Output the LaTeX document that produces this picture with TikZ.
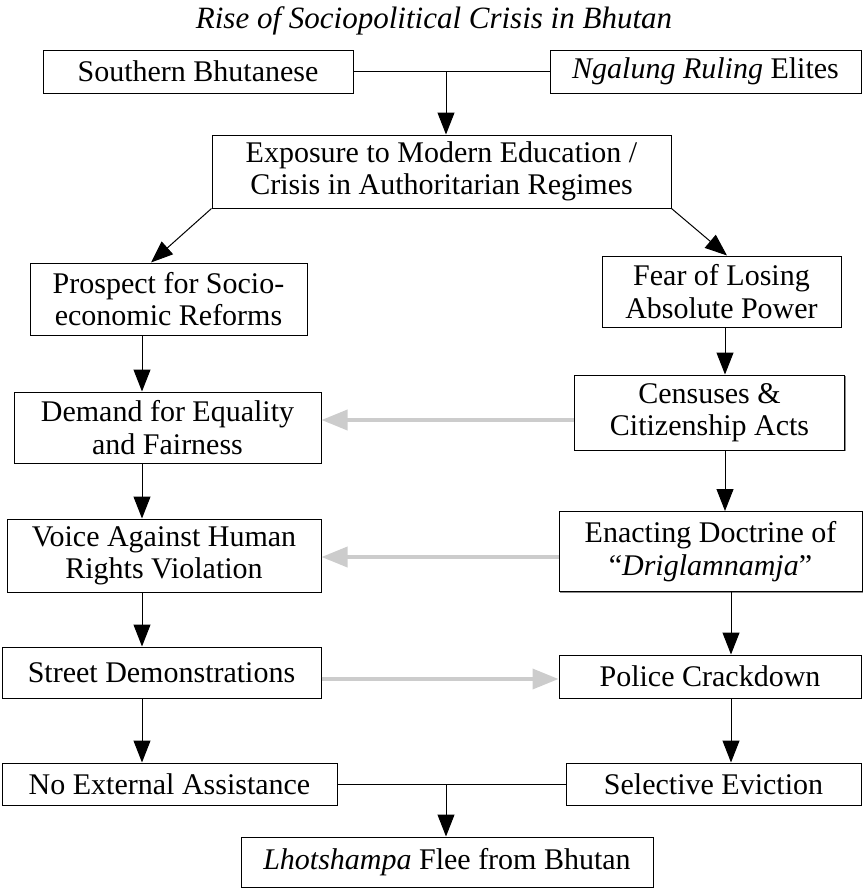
\documentclass[tikz,border=0pt]{standalone}
\usepackage{fontspec}
\setmainfont{Liberation Serif}
\usetikzlibrary{arrows.meta,calc,shadows}
\tikzset{
  box/.style={draw=black,line width=0.5pt,fill=white,inner sep=0pt,align=center,
    font=\fontsize{15}{16.2}\selectfont,
    general shadow={shadow xshift=0.7pt,shadow yshift=-0.7pt,fill=black!45}},
  arr/.style={draw=black,line width=0.5pt,-{Triangle[length=11pt,width=8.5pt]}},
  link/.style={draw=black,line width=0.5pt},
  garr/.style={draw=black!20,line width=1.8pt,-{Triangle[length=13pt,width=10pt]}},
}
\begin{document}
\begin{tikzpicture}[x=0.5pt,y=-0.5pt]
\useasboundingbox (0,0) rectangle (864,889);
\node[font=\fontsize{15.5}{16}\selectfont\itshape] (title) at (434,21) {Rise of Sociopolitical Crisis in Bhutan};

\node[box,minimum width=155pt,minimum height=21.5pt] (sb) at (198,71.5) {Southern Bhutanese};
\node[box,minimum width=155.5pt,minimum height=21.5pt] (ng) at (705.5,71.5) {\textit{Ngalung Ruling} Elites};
\node[box,minimum width=229.5pt,minimum height=36.5pt] (ex) at (441.5,171.5) {Exposure to Modern Education /\\Crisis in Authoritarian Regimes};

\node[box,minimum width=138.5pt,minimum height=36pt] (pr) at (168.5,299) {Prospect for Socio-\\economic Reforms};
\node[box,minimum width=119.5pt,minimum height=35.5pt] (fe) at (721.5,291.5) {Fear of Losing\\Absolute Power};

\node[box,minimum width=153.5pt,minimum height=35.5pt] (de) at (167.5,427.5) {Demand for Equality\\and Fairness};
\node[box,minimum width=135pt,minimum height=37.5pt] (ce) at (709.5,412.5) {Censuses \&\\Citizenship Acts};

\node[box,minimum width=157pt,minimum height=36.5pt] (vo) at (164,555.5) {Voice Against Human\\Rights Violation};
\node[box,minimum width=151.5pt,minimum height=40pt] (en) at (710.5,551.5) {Enacting Doctrine of\\``\textit{Driglamnamja}''};

\node[box,minimum width=159.5pt,minimum height=25.5pt] (st) at (161.5,672.5) {Street Demonstrations};
\node[box,minimum width=151pt,minimum height=21.5pt] (po) at (710,676.5) {Police Crackdown};

\node[box,minimum width=167.5pt,minimum height=21pt] (no) at (169.5,784) {No External Assistance};
\node[box,minimum width=147.5pt,minimum height=21pt] (se) at (713.5,784) {Selective Eviction};

\node[box,minimum width=206pt,minimum height=25pt] (lh) at (447,862) {\textit{Lhotshampa} Flee from Bhutan};

% top join
\draw[link] (sb) -- (ng);
\coordinate (j1) at (446,71.5);
\draw[arr] (j1) -- (446,0 |- ex.north);

% diagonals
\draw[arr] (ex.south west) -- (151,0 |- pr.north);
\draw[arr] (ex.south east) -- (727,0 |- fe.north);

% left column
\draw[arr] (142,0 |- pr.south) -- (142,0 |- de.north);
\draw[arr] (142,0 |- de.south) -- (142,0 |- vo.north);
\draw[arr] (142,0 |- vo.south) -- (142,0 |- st.north);
\draw[arr] (142,0 |- st.south) -- (142,0 |- no.north);

% right column
\draw[arr] (725,0 |- fe.south) -- (725,0 |- ce.north);
\draw[arr] (725,0 |- ce.south) -- (725,0 |- en.north);
\draw[arr] (731,0 |- en.south) -- (731,0 |- po.north);
\draw[arr] (731,0 |- po.south) -- (731,0 |- se.north);

% gray cross arrows
\draw[garr] (ce.west |- 0,420) -- (de.east |- 0,420);
\draw[garr] (en.west |- 0,557) -- (vo.east |- 0,557);
\draw[garr] (st.east |- 0,679) -- (po.west |- 0,679);

% bottom join
\draw[link] (no) -- (se);
\coordinate (j2) at (446,784);
\draw[arr] (j2) -- (446,0 |- lh.north);
\end{tikzpicture}
\end{document}
